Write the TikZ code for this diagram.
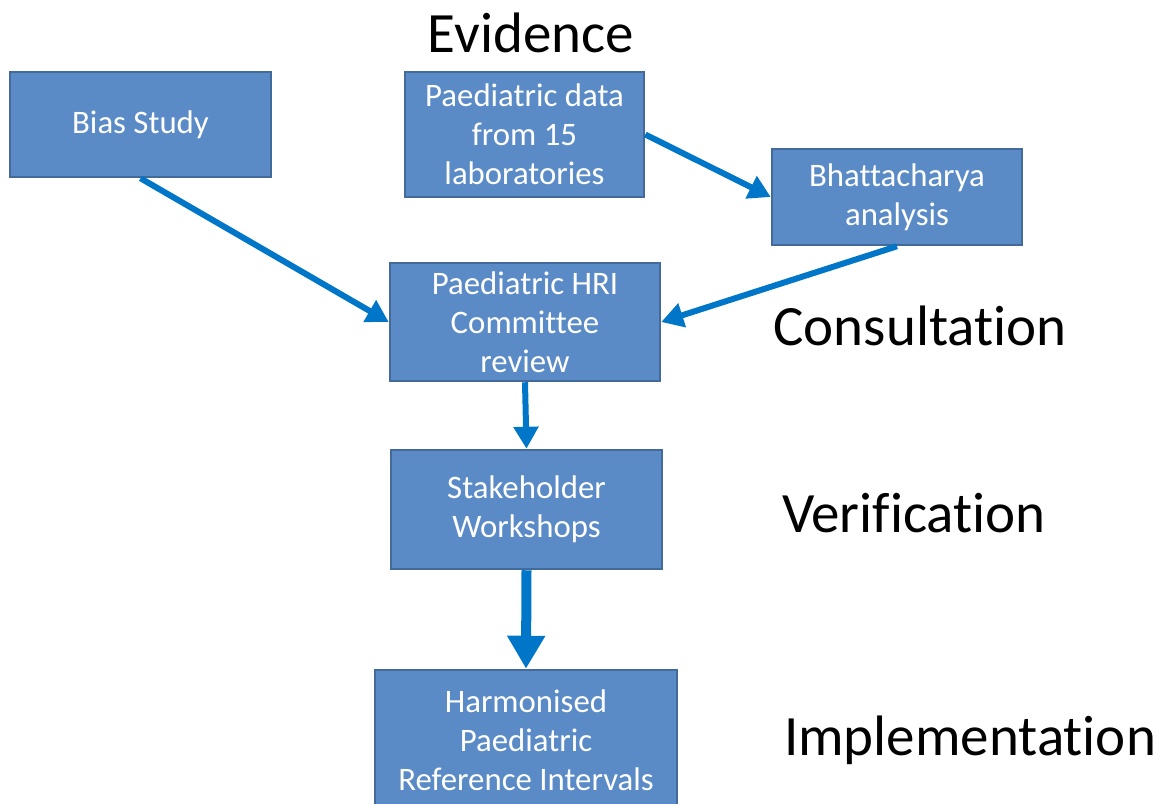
\documentclass[tikz,border=0pt]{standalone}
\usepackage{fontspec}
\setmainfont[Ligatures=NoCommon]{Carlito}
\usetikzlibrary{arrows.meta,positioning}
\definecolor{boxfill}{RGB}{91,139,198}
\definecolor{boxline}{RGB}{66,106,154}
\definecolor{arrowblue}{RGB}{0,118,200}
\newcommand{\boxfont}{\fontsize{32.8}{39}\selectfont}
\newcommand{\stagefont}{\fontsize{57}{68}\selectfont}

\begin{document}
\begin{tikzpicture}[x=1pt, y=-1pt,
    stepbox/.style={draw=boxline, fill=boxfill, line width=2.5pt, text=white,
      align=center, font=\boxfont, inner sep=0pt},
    stage/.style={font=\stagefont, text=black},
    flow/.style={draw=arrowblue, line width=6pt,
      -{Triangle[length=22pt, width=24pt]}},
    bigflow/.style={draw=arrowblue, line width=10pt,
      -{Triangle[length=33pt, width=36pt]}}]
        \clip (0,0) rectangle (1167,803);
        \useasboundingbox (0,0) rectangle (1167,803);
        %nodes
        \node[stepbox, minimum width=261pt, minimum height=105pt] (bias) at (140.5, 124.5) {Bias Study};
        \node[stepbox, minimum width=239pt, minimum height=125pt] (data) at (524.5, 134.5) {Paediatric data\\from 15\\laboratories};
        \node[stepbox, minimum width=250pt, minimum height=96pt] (bhat) at (897, 197) {Bhattacharya\\analysis};
        \node[stepbox, minimum width=270pt, minimum height=118pt] (review) at (525, 322) {Paediatric HRI\\Committee\\review};
        \node[stepbox, minimum width=271pt, minimum height=119pt] (workshops) at (526.5, 509.5) {Stakeholder\\Workshops};
        \node[stepbox, minimum width=302pt, minimum height=140pt] (intervals) at (526, 740) {Harmonised\\Paediatric\\Reference Intervals};
        %stages
        \node[stage] (evidence) at (531, 33) {Evidence};
        \node[stage] (consultation) at (920, 326) {Consultation};
        \node[stage] (verification) at (914, 513) {Verification};
        \node[stage] (implementation) at (970, 740) {Implementation};
        %edges
        \path [flow] (bias.south) to (review.west);
        \path [flow] (data.east) to (bhat.west);
        \path [flow] (bhat.south) to (review.east);
        \path [flow] (review.south) to (workshops.north);
        \path [bigflow] (workshops.south) to (intervals.north);
      \end{tikzpicture}
\end{document}
